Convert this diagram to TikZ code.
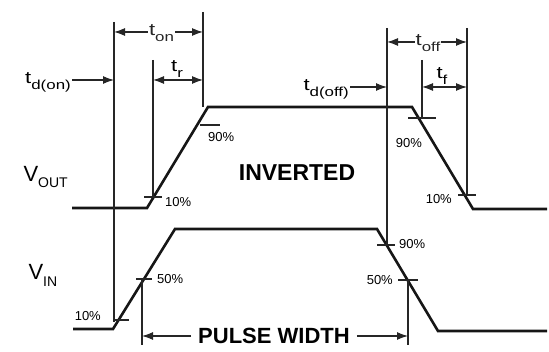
\documentclass[tikz,border=0pt]{standalone}
\usepackage{fontspec}
\setmainfont{Liberation Sans}
\setsansfont{Liberation Sans}
\newfontfamily\widesans[FakeStretch=1.3]{Liberation Sans}
\usetikzlibrary{arrows.meta,calc}
\definecolor{WaveBlack}{HTML}{161616}
\definecolor{GuideBlack}{HTML}{262626}

\newcommand{\tlab}[2]{#1\raisebox{-6pt}{\fontsize{13}{13}\selectfont #2}}

\tikzset{
  wave/.style={WaveBlack, line width=2.6pt, line join=miter},
  guide/.style={GuideBlack, line width=1.1pt},
  tickmark/.style={GuideBlack, line width=1.1pt},
  dim/.style={GuideBlack, line width=1.2pt, <->},
  pct/.style={font=\fontsize{13}{13}\selectfont, inner sep=1pt},
  tname/.style={font=\widesans\fontsize{17}{17}\selectfont, inner sep=1pt},
  bigcap/.style={font=\bfseries\fontsize{23}{23}\selectfont, inner sep=1pt},
}

\begin{document}
\begin{tikzpicture}[x=1pt, y=-1pt, font=\sffamily, >={Latex[length=11pt,width=8pt]}]
  \useasboundingbox (0,0) rectangle (549,352);

  \coordinate (O1) at (72,208);
  \coordinate (O2) at (147,208);
  \coordinate (O3) at (208,107);
  \coordinate (O4) at (412,107);
  \coordinate (O5) at (473,209);
  \coordinate (O6) at (547,209);
  \draw[wave] (O1) -- (O2) -- (O3) -- (O4) -- (O5) -- (O6);

  \coordinate (I1) at (73,329);
  \coordinate (I2) at (113,329);
  \coordinate (I3) at (175,229);
  \coordinate (I4) at (377,229);
  \coordinate (I5) at (438,331);
  \coordinate (I6) at (547,331);
  \draw[wave] (I1) -- (I2) -- (I3) -- (I4) -- (I5) -- (I6);

  % crossing points
  \coordinate (Vi10) at (121,320);
  \coordinate (Vi50) at (144,279);
  \coordinate (Vo10) at (153,197);
  \coordinate (Vo90) at (210,125);
  \coordinate (Wo90) at (422,118);
  \coordinate (Wo10) at (467,195);
  \coordinate (Wi90) at (386,245);
  \coordinate (Wi50) at (408,280);
  \foreach \p/\w in {Vi10/8, Vi50/8, Vo10/9, Vo90/10, Wo90/14, Wo10/9, Wi90/9, Wi50/10}
    \draw[tickmark] ($(\p)+(-\w,0)$) -- ($(\p)+(\w,0)$);

  \node[pct, anchor=east] at (102,316) {10\%};
  \node[pct, anchor=west] at (156,279) {50\%};
  \node[pct, anchor=west] at (164,202) {10\%};
  \node[pct, anchor=west] at (207,137) {90\%};
  \node[pct] at (409,143) {90\%};
  \node[pct, anchor=east] at (453,199) {10\%};
  \node[pct, anchor=west] at (398,244) {90\%};
  \node[pct, anchor=east] at (394,280) {50\%};

  % guide lines
  \coordinate (G1t) at (114,22);   \coordinate (G1b) at (114,322);
  \coordinate (G2t) at (203,12);   \coordinate (G2b) at (203,107);
  \coordinate (G3t) at (153,60);   \coordinate (G3b) at (153,197);
  \coordinate (G4t) at (387,28);   \coordinate (G4b) at (387,245);
  \coordinate (G5t) at (467,28);   \coordinate (G5b) at (467,195);
  \coordinate (G6t) at (422,60);   \coordinate (G6b) at (422,118);
  \coordinate (P1t) at (142,279);  \coordinate (P1b) at (142,345);
  \coordinate (P2t) at (408,280);  \coordinate (P2b) at (408,345);
  \foreach \g in {G1, G2, G3, G4, G5, G6, P1, P2}
    \draw[guide] (\g t) -- (\g b);

  \draw[dim] (G1t |- 0,32) -- (G2t |- 0,32)
    node[tname, midway, fill=white, xshift=3pt, yshift=-1pt] {\tlab{t}{on}};
  \draw[dim] (G3t |- 0,80) -- (G2t |- 0,80);
  \node[tname] (tr) at (177,69) {\tlab{t}{r}};
  \draw[dim] (G4t |- 0,42) -- (G5t |- 0,42)
    node[tname, midway, fill=white, xshift=1pt, yshift=-1pt] {\tlab{t}{off}};
  \draw[dim] (G6t |- 0,87) -- (G5t |- 0,87);
  \node[tname] (tf) at (442,76) {\tlab{t}{f}};

  \node[tname, anchor=east] (tdon) at (72,82) {\tlab{t}{d(on)}};
  \draw[guide, ->] (tdon.east |- 0,80) -- (G1t |- 0,80);
  \node[tname, anchor=east] (tdoff) at (350,89) {\tlab{t}{d(off)}};
  \draw[guide, ->] (tdoff.east |- 0,87) -- (G4t |- 0,87);

  \node[font=\fontsize{22}{22}\selectfont, anchor=base west] (vout) at (20,182)
    {V\raisebox{-0.25em}{\fontsize{14}{14}\selectfont OUT}};
  \node[font=\fontsize{22}{22}\selectfont, anchor=base west] (vin) at (25,280)
    {V\raisebox{-0.3em}{\fontsize{14}{14}\selectfont IN}};
  \node[bigcap] (inv) at (297,173) {INVERTED};

  \node[bigcap, font=\bfseries\fontsize{22}{22}\selectfont, inner sep=7pt] (pw) at (274,336) {PULSE WIDTH};
  \draw[guide, ->] (pw.west) -- (P1t |- pw.west);
  \draw[guide, ->] (pw.east) -- (P2t |- pw.east);
\end{tikzpicture}
\end{document}
